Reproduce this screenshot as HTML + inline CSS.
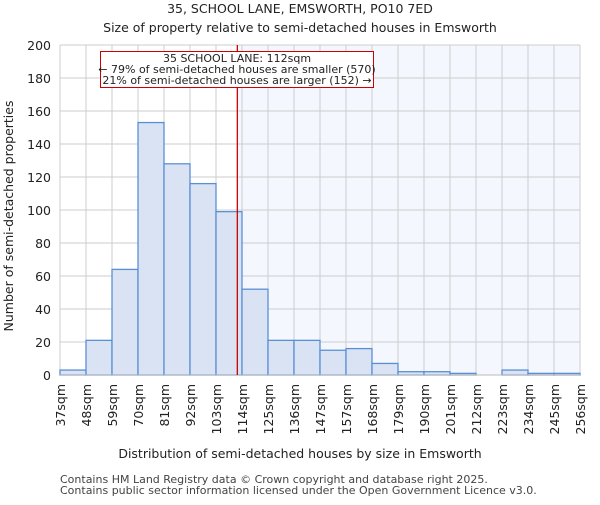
<!DOCTYPE html>
<html><head><meta charset="utf-8"><style>body{margin:0;background:#fff}svg{font-family:"DejaVu Sans","Liberation Sans",sans-serif}</style></head>
<body>
<svg id="c" width="600" height="500"></svg>
<script>
const categories=["37sqm","48sqm","59sqm","70sqm","81sqm","92sqm","103sqm","114sqm","125sqm","136sqm","147sqm","157sqm","168sqm","179sqm","190sqm","201sqm","212sqm","223sqm","234sqm","245sqm","256sqm"];
const counts=[3,21,64,153,128,116,99,52,21,21,15,16,7,2,2,1,0,3,1,1];
const yTicks=[0,20,40,60,80,100,120,140,160,180,200];
const propertyBin=6.82;
const X0=60,X1=580,Y0=375,Y1=45;
const bw=(X1-X0)/counts.length;
const x=i=>X0+i*bw;
const y=v=>Y0-(v/200)*(Y0-Y1);
const NS="http://www.w3.org/2000/svg";
const svg=document.getElementById('c');
function mk(t,a,p){const e=document.createElementNS(NS,t);for(const k in a)e.setAttribute(k,a[k]);(p||svg).appendChild(e);return e;}
const lx=x(propertyBin);
let sh=mk('rect',{x:lx,y:Y1,width:X1-lx,height:Y0-Y1,fill:'#f4f7fe'});


for(const t of yTicks){let g=mk('line',{x1:X0,x2:X1,y1:y(t),y2:y(t),stroke:'#cccccc'});


let tl=mk('text',{x:X0-9,y:y(t)+5,'text-anchor':'end','font-size':12.5,fill:'#222'});tl.textContent=t;

}
for(let i=0;i<=counts.length;i++){let g=mk('line',{x1:x(i),x2:x(i),y1:Y1,y2:Y0,stroke:'#cccccc'});


let tl=mk('text',{transform:`translate(${x(i)+5},${Y0+9}) rotate(-90)`,'text-anchor':'end','font-size':12.5,fill:'#222'});tl.textContent=categories[i];

}
counts.forEach((v,i)=>{let b=mk('rect',{x:x(i),y:y(v),width:bw,height:Y0-y(v),fill:'#dae3f3',stroke:'#5b8fd5','stroke-width':1.3});

});
let ax=mk('line',{x1:X0,x2:X1,y1:Y0,y2:Y0,stroke:'#bbb'});


let rl=mk('line',{x1:lx,x2:lx,y1:Y1,y2:Y0,stroke:'#cc0000','stroke-width':1.3});


</script>
<svg width="600" height="500" style="position:absolute;left:0;top:0">
<g font-family="DejaVu Sans, Liberation Sans, sans-serif" fill="#222">
<rect x="100.5" y="51.5" width="273" height="36" fill="#fff" stroke="#cc0000"/>
<text x="237" y="62" font-size="11" text-anchor="middle">35 SCHOOL LANE: 112sqm</text>
<text x="237" y="73" font-size="11" text-anchor="middle">← 79% of semi-detached houses are smaller (570)</text>
<text x="237" y="84" font-size="11" text-anchor="middle">21% of semi-detached houses are larger (152) →</text>
<text x="300" y="13" font-size="12.5" text-anchor="middle">35, SCHOOL LANE, EMSWORTH, PO10 7ED</text>
<text x="300" y="32" font-size="12.5" text-anchor="middle">Size of property relative to semi-detached houses in Emsworth</text>
<text x="300" y="458" font-size="12.5" text-anchor="middle">Distribution of semi-detached houses by size in Emsworth</text>
<text transform="translate(13,216) rotate(-90)" font-size="12.5" text-anchor="middle">Number of semi-detached properties</text>
<text x="60" y="483" font-size="11" fill="#444">Contains HM Land Registry data © Crown copyright and database right 2025.</text>
<text x="60" y="494" font-size="11" fill="#444">Contains public sector information licensed under the Open Government Licence v3.0.</text>
</g></svg>
</body></html>
